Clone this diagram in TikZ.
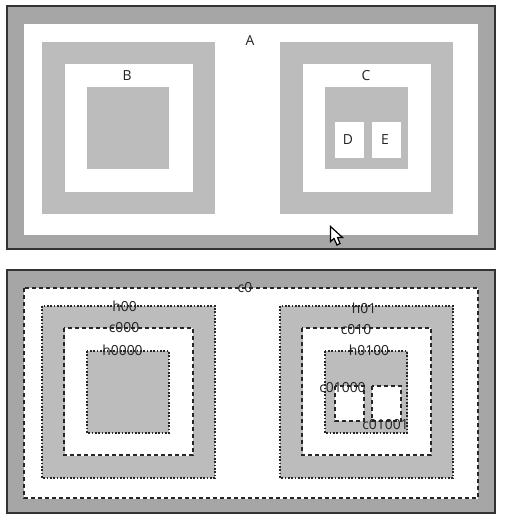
\documentclass[tikz,border=0pt]{standalone}
\usepackage{fontspec}
\setmainfont{Open Sans}
\definecolor{framegray}{HTML}{A6A6A6}
\definecolor{boxgray}{HTML}{BCBCBC}
\definecolor{edgedark}{HTML}{333333}
\definecolor{labeldark}{HTML}{222222}
\tikzset{
  x=0.75pt,y=-0.75pt,
  frame/.style={fill=framegray,draw=edgedark,line width=1.5*0.75pt},
  hole/.style={fill=white},
  solid box/.style={fill=boxgray},
  dash line/.style={draw=black!85,line width=1.5pt,dash pattern=on 3.2pt off 2.05pt},
  dot line/.style={draw=black!85,line width=1.5pt,dash pattern=on 1.3pt off 1.2pt},
  lab/.style={inner sep=0pt,font=\fontsize{10.4pt}{12pt}\selectfont,text=labeldark},
}
\begin{document}
\begin{tikzpicture}
\useasboundingbox (0,0) rectangle (504,524);
\path[fill=white] (0,0) rectangle (504,524);
% top panel
\path[frame] (7,6) rectangle (495,249);
\path[hole] (24,24) rectangle (478,234.5);
\path[solid box] (42,42) rectangle (215,214);
\path[hole] (64.5,64) rectangle (192.5,192);
\path[solid box] (87,87) rectangle (169,169);
\path[solid box] (280,42) rectangle (453,214);
\path[hole] (302.5,64) rectangle (430.5,192);
\path[solid box] (325,87) rectangle (407.5,169);
\path[hole] (334.5,122) rectangle (363.5,158);
\path[hole] (371.5,122) rectangle (400.5,158);
\node[lab] (A) at (250,41) {A};
\node[lab] (B) at (127,76) {B};
\node[lab] (C) at (366,76) {C};
\node[lab] (D) at (348,139.5) {D};
\node[lab] (E) at (385,139.5) {E};
% cursor
\path[fill=white,draw=black,line width=0.9pt,line join=miter]
  (330.5,226.5) -- (330.5,241.5) -- (334,238.5) -- (337,245) -- (340,243.5) -- (337.5,237.5) -- (342.5,237.5) -- cycle;
% bottom panel
\path[frame] (7,270) rectangle (495,513);
\path[hole] (24,288) rectangle (478,498.5);
\path[solid box] (42,306) rectangle (215,478);
\path[hole] (64.5,328) rectangle (192.5,455.5);
\path[solid box] (87,351) rectangle (169,433);
\path[solid box] (280,306) rectangle (453,478);
\path[hole] (302.5,328) rectangle (430.5,455.5);
\path[solid box] (325,351) rectangle (407.5,433);
\path[hole] (334.5,386) rectangle (363.5,421);
\path[hole] (371.5,386) rectangle (400.5,421);
\path[dash line] (24,288) rectangle (478,498);
\path[dot line] (42,306) rectangle (215,478);
\path[dash line] (64,328) rectangle (193,455);
\path[dot line] (87,351) rectangle (169,433);
\path[dot line] (280,306) rectangle (453,478);
\path[dash line] (302,328) rectangle (431,455);
\path[dot line] (325,351) rectangle (407,433);
\path[dash line] (335,386) rectangle (364,421);
\path[dash line] (372,386) rectangle (401,421);
\node[lab] (c0) at (245,288) {c0};
\node[lab] (h00) at (124.5,306) {h00};
\node[lab] (c000) at (124,328) {c000};
\node[lab] (h0000) at (122.5,350) {h0000};
\node[lab] (h01) at (364,308) {h01};
\node[lab] (c010) at (356,330) {c010};
\node[lab] (h0100) at (369,350) {h0100};
\node[lab] (c01000) at (342.5,388) {c01000};
\node[lab] (c01001) at (385.5,425) {c01001};
\end{tikzpicture}
\end{document}
